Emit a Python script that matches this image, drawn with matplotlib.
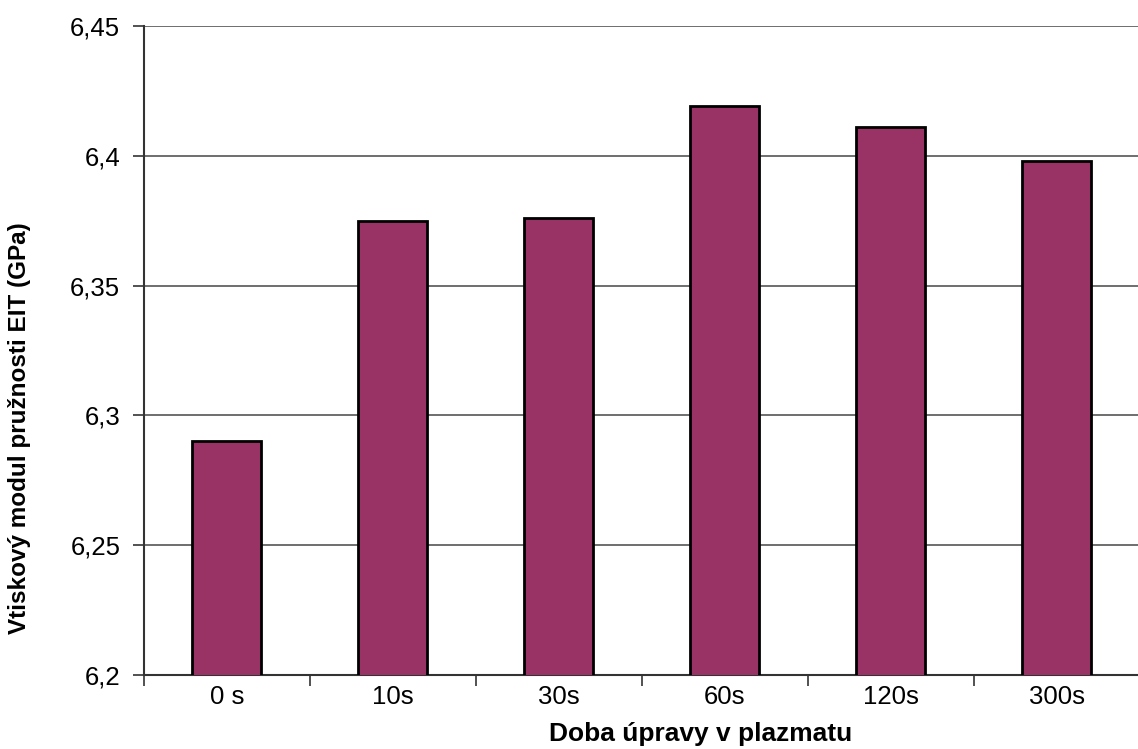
import matplotlib.pyplot as plt
from matplotlib.ticker import FuncFormatter, FixedLocator
import numpy as np

plt.rcParams['font.family'] = ['Liberation Sans', 'DejaVu Sans']

# doba upravy v plazmatu a namereny vtiskovy modul
casy = ['0 s', '10s', '30s', '60s', '120s', '300s']
eit = [6.290, 6.375, 6.376, 6.419, 6.411, 6.398]

fig = plt.figure(figsize=(11.38, 7.49), dpi=100)
ax = fig.add_axes([0.1265, 0.0988, 0.875, 0.8665])

x = np.arange(len(casy))
ax.bar(x, eit, width=0.415, bottom=0, color='#993366', edgecolor='black', linewidth=2, zorder=3)

ax.set_ylim(6.2, 6.45)
ax.set_xlim(-0.5, len(casy) - 0.5)
ax.set_yticks([6.2, 6.25, 6.3, 6.35, 6.4, 6.45])
ax.yaxis.set_major_formatter(FuncFormatter(lambda v, p: ('%g' % round(v, 2)).replace('.', ',')))
ax.yaxis.grid(True, color='#555555', linewidth=1.2, zorder=0)

# popisky kategorii uprostred, carky na hranicich
ax.xaxis.set_major_locator(FixedLocator(np.arange(len(casy) + 1) - 0.5))
ax.xaxis.set_minor_locator(FixedLocator(x))
ax.set_xticklabels([])
ax.set_xticklabels(casy, minor=True)
ax.tick_params(axis='x', which='major', length=8, width=1.2, color='#333333', direction='out')
ax.tick_params(axis='x', which='minor', length=0, labelsize=18.5, pad=7)
ax.tick_params(axis='y', length=8, width=1.2, color='#333333', labelsize=18.5, pad=9)

for s in ['top', 'right']:
    ax.spines[s].set_visible(False)
ax.spines['left'].set_color('#333333')
ax.spines['left'].set_linewidth(1.5)
ax.spines['bottom'].set_color('#333333')
ax.spines['bottom'].set_linewidth(1.5)

ax.set_xlabel('Doba úpravy v plazmatu', fontsize=19, fontweight='bold')
ax.set_ylabel('Vtiskový modul pružnosti EIT (GPa)', fontsize=17.5, fontweight='bold')
ax.xaxis.set_label_coords(0.559, -0.072)
ax.yaxis.set_label_coords(-0.113, 0.381)

plt.savefig('out.png', dpi=100)
plt.close('all')
